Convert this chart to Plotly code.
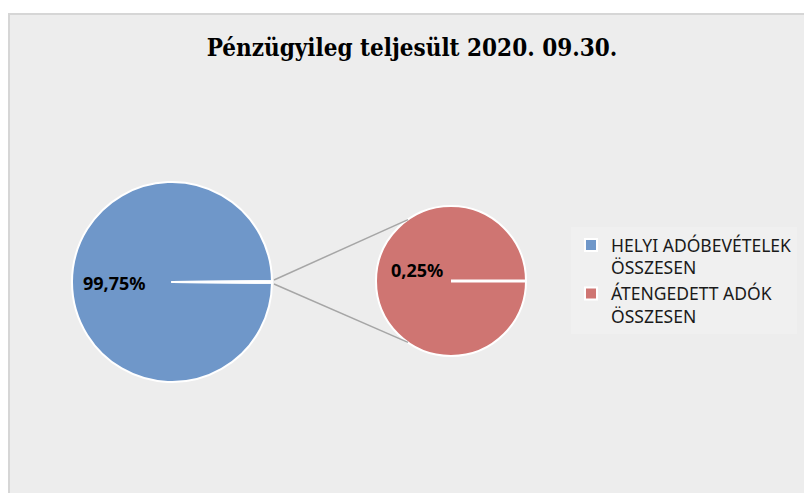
import math
import plotly.graph_objects as go

# ---- data ----
labels = ["HELYI ADÓBEVÉTELEK<br>ÖSSZESEN", "ÁTENGEDETT ADÓK<br>ÖSSZESEN"]
shares = [99.75, 0.25]
colors = ["#6f97c9", "#cf7572"]
title_text = "Pénzügyileg teljesült 2020. 09.30."

# ---- layout geometry (px) ----
W, H = 804, 493
c1, r1 = (172, 282), 100   # main pie
c2, r2 = (451, 281), 75    # secondary pie


def px(x, y):
    return x / W, 1 - y / H


def dom(c, r):
    return dict(x=[(c[0] - r) / W, (c[0] + r) / W],
                y=[1 - (c[1] + r) / H, 1 - (c[1] - r) / H])


def pct(v):
    return f"{v:.2f}".replace(".", ",") + "%"


fig = go.Figure()
fig.add_trace(go.Pie(
    labels=labels, values=shares, domain=dom(c1, r1), sort=False,
    rotation=90.45, direction="counterclockwise", textinfo="none",
    marker=dict(colors=colors, line=dict(color="white", width=2)),
    hoverinfo="label+percent"))
fig.add_trace(go.Pie(
    labels=labels[1:], values=shares[1:], domain=dom(c2, r2), sort=False,
    rotation=90, textinfo="none",
    marker=dict(colors=colors[1:], line=dict(color="white", width=2)),
    hoverinfo="label"))

shapes = []
# chart frame / background
x0, y1 = px(9, 14)
shapes.append(dict(type="rect", xref="paper", yref="paper", x0=x0, y0=-0.05,
                   x1=1.05, y1=y1, fillcolor="#ededed",
                   line=dict(color="#d6d6d6", width=2), layer="below"))
# connector lines
ang = math.radians(125)
for s in (1, -1):
    sx, sy = px(c1[0] + r1 + 2, c1[1] - 2 * s)
    ex, ey = px(c2[0] + r2 * math.cos(ang), c2[1] - s * r2 * math.sin(ang))
    shapes.append(dict(type="line", xref="paper", yref="paper", x0=sx, y0=sy,
                       x1=ex, y1=ey, line=dict(color="#a6a6a6", width=1.5)))
# radial separator on secondary pie
sx, sy = px(*c2)
ex, ey = px(c2[0] + r2, c2[1])
shapes.append(dict(type="line", xref="paper", yref="paper", x0=sx, y0=sy,
                   x1=ex, y1=ey, line=dict(color="white", width=3)))

lbl_font = dict(family="Noto Sans", size=18, color="#000000")
a1x, a1y = px(115, 283)
a2x, a2y = px(417, 270)
annotations = [
    dict(text=f"<b>{pct(shares[0])}</b>", x=a1x, y=a1y, xref="paper", yref="paper",
         xanchor="center", yanchor="middle", showarrow=False, font=lbl_font),
    dict(text=f"<b>{pct(shares[1])}</b>", x=a2x, y=a2y, xref="paper", yref="paper",
         xanchor="center", yanchor="middle", showarrow=False, font=lbl_font),
]

tx, ty = px(412, 48)
lx, ly = px(571, 227)
fig.update_layout(
    width=W, height=H, margin=dict(l=0, r=0, t=0, b=0),
    paper_bgcolor="white", plot_bgcolor="white",
    title=dict(text=f"<b>{title_text}</b>", x=tx, y=ty, xanchor="center", yanchor="middle",
               xref="paper", yref="paper",
               font=dict(family="DejaVu Serif Condensed, Liberation Serif, serif",
                         size=24, color="#000000")),
    shapes=shapes, annotations=annotations,
    legend=dict(x=lx, y=ly, xanchor="left", yanchor="top", valign="top",
                bgcolor="rgba(255,255,255,0.2)",
                font=dict(family="Noto Sans", size=17.5, color="#1a1a1a")),
)

fig.write_html("out.html", config={"displayModeBar": False},
               post_script="document.body.style.margin='0';")
